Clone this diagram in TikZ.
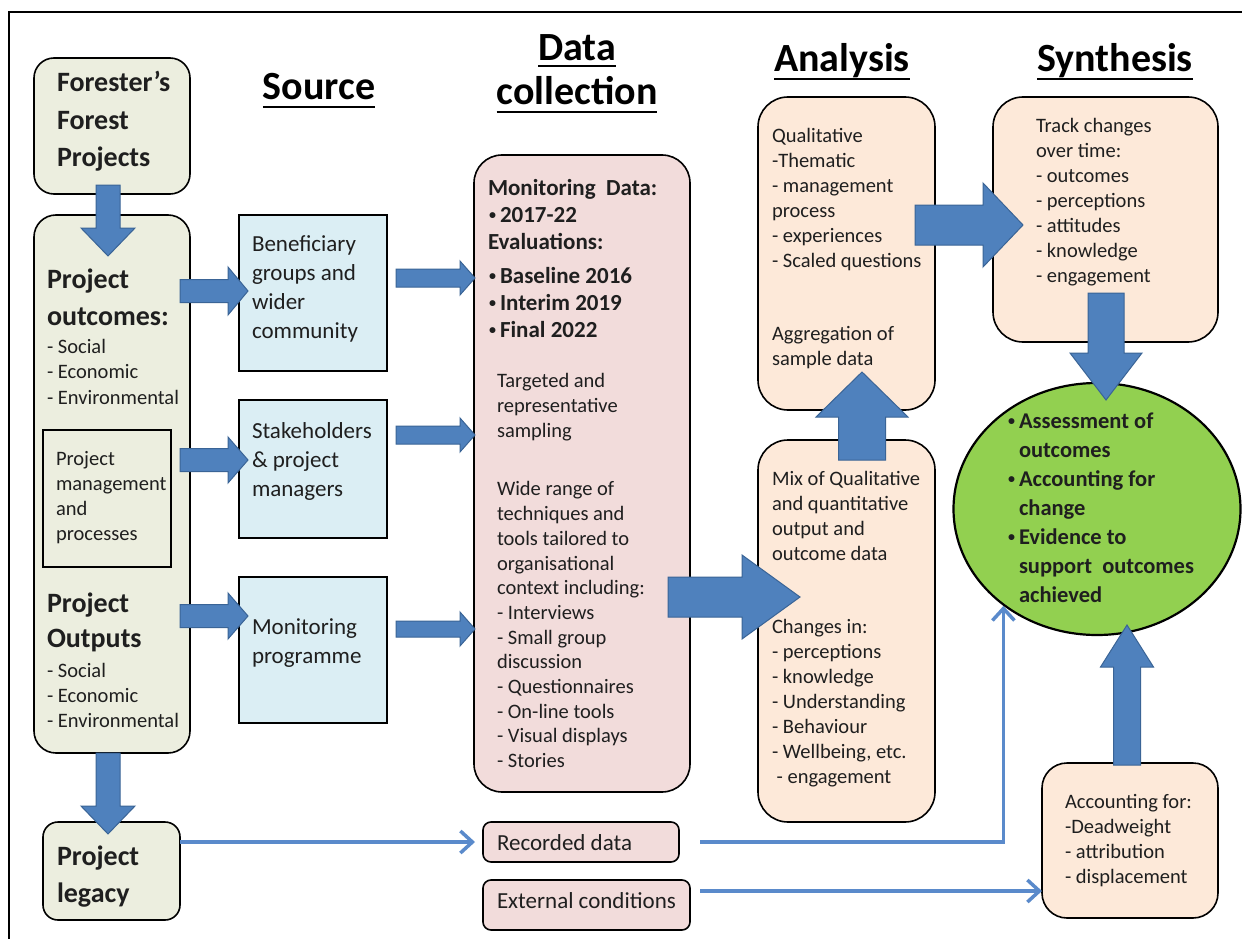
\documentclass[tikz,border=0pt]{standalone}
\usepackage{fontspec}
\setmainfont{Carlito}
\usetikzlibrary{shapes.geometric,arrows.meta,calc}
\definecolor{beige}{HTML}{ECEEDF}
\definecolor{srcblue}{HTML}{DBEEF4}
\definecolor{pinkbox}{HTML}{F2DCDB}
\definecolor{peach}{HTML}{FDE9D9}
\definecolor{circgreen}{HTML}{92D050}
\definecolor{arrfill}{HTML}{4F81BD}
\definecolor{arredge}{HTML}{3A6496}
\definecolor{thinblue}{HTML}{5A8ACB}
\newcommand\fsz[2]{\fontsize{#1}{#2}\selectfont}
% block arrows: right / down / up
\newcommand\blkR[6]{\filldraw[blk] (#1,#3-#4) -- (#2-#6,#3-#4) -- (#2-#6,#3-#5) -- (#2,#3) -- (#2-#6,#3+#5) -- (#2-#6,#3+#4) -- (#1,#3+#4) -- cycle;}
\newcommand\blkD[6]{\filldraw[blk] (#1-#4,#2) -- (#1-#4,#3-#6) -- (#1-#5,#3-#6) -- (#1,#3) -- (#1+#5,#3-#6) -- (#1+#4,#3-#6) -- (#1+#4,#2) -- cycle;}
\newcommand\blkU[6]{\filldraw[blk] (#1-#4,#2) -- (#1-#4,#3+#6) -- (#1-#5,#3+#6) -- (#1,#3) -- (#1+#5,#3+#6) -- (#1+#4,#3+#6) -- (#1+#4,#2) -- cycle;}
\newcommand\smbul{\raisebox{2.6pt}{\fontsize{14}{14}\selectfont •}}
\newcommand\bul{\makebox[11pt][l]{\smbul}}
\newcommand\dbul{\makebox[12pt][l]{\hspace{1pt}\smbul}}
\tikzset{
  bx/.style={draw=black, line width=1.6pt, inner sep=0pt, outer sep=0pt},
  txt/.style={anchor=north west, inner sep=0pt, outer sep=0pt, align=left, text=black!88},
  ttl/.style={anchor=base, inner sep=0pt, outer sep=0pt, font=\fsz{40}{46}\bfseries},
  uline/.style={line width=2.6pt},
  blk/.style={fill=arrfill, draw=arredge, line width=1pt},
  thinarr/.style={draw=thinblue, line width=3.5pt, -{Straight Barb[length=12pt,width=22pt,line width=3.5pt]}},
}
\begin{document}
\begin{tikzpicture}[x=1pt,y=-1pt]
\useasboundingbox (0,0) rectangle (1242,939);
\fill[white] (0,0) rectangle (1242,939);
\draw[line width=2pt] (9,939) -- (9,12) -- (1242,12);

% boxes
\node[bx, fill=beige, rounded corners=20pt, minimum width=156pt, minimum height=136pt] (forester) at (112,126) {};
\node[bx, fill=beige, rounded corners=22pt, minimum width=156pt, minimum height=538pt] (outcomes) at (112,484) {};
\node[bx, line width=1.4pt, minimum width=128pt, minimum height=137pt] (pm) at (107,498.5) {};
\node[bx, fill=beige, rounded corners=15pt, minimum width=137pt, minimum height=98pt] (legacy) at (111.5,871) {};
\node[bx, fill=srcblue, minimum width=148pt, minimum height=156pt] (src1) at (313,293) {};
\node[bx, fill=srcblue, minimum width=148pt, minimum height=138pt] (src2) at (313,469) {};
\node[bx, fill=srcblue, minimum width=148pt, minimum height=146pt] (src3) at (313,650) {};
\node[bx, fill=pinkbox, rounded corners=28pt, minimum width=216pt, minimum height=637pt] (data) at (582,473.5) {};
\node[bx, fill=pinkbox, rounded corners=8pt, minimum width=196pt, minimum height=40pt] (rec) at (581,842) {};
\node[bx, fill=pinkbox, rounded corners=8pt, minimum width=207pt, minimum height=50pt] (ext) at (586.5,905) {};
\node[bx, fill=peach, rounded corners=30pt, minimum width=177pt, minimum height=313pt] (anaU) at (846.5,253.5) {};
\node[bx, fill=peach, rounded corners=30pt, minimum width=177pt, minimum height=382pt] (anaL) at (846.5,631) {};
\node[bx, fill=peach, rounded corners=30pt, minimum width=225pt, minimum height=245pt] (syn) at (1105.5,219.5) {};
\node[bx, fill=peach, rounded corners=25pt, minimum width=176pt, minimum height=155pt] (acc) at (1130,840.5) {};
\node[ellipse, draw=black, line width=2.2pt, fill=circgreen, minimum width=287pt, minimum height=252pt, inner sep=0pt] (circ) at (1097,509) {};

% titles
\node[ttl] (tsrc) at (319,100) {Source};
\node[ttl] (tdata) at (577,61) {Data};
\node[ttl] (tcoll) at (577,105) {collection};
\node[ttl] (tana) at (842,72) {Analysis};
\node[ttl] (tsyn) at (1115,72) {Synthesis};
\foreach \t/\d in {tsrc/7,tdata/5,tcoll/7,tana/7,tsyn/7}
  \draw[uline] ([yshift=-\d pt]\t.base west) -- ([yshift=-\d pt]\t.base east);

% block arrows
\blkD{108}{185}{256}{12}{27}{28}
\blkD{108}{753}{834}{12}{27}{28}
\blkR{180}{248}{291}{11.5}{24}{20}
\blkR{180}{248}{460}{11.5}{23}{20}
\blkR{180}{248}{616}{11.5}{23}{20}
\blkR{396}{475}{278}{9}{17}{15}
\blkR{396}{475}{435}{9}{17}{15}
\blkR{396}{475}{629}{8}{17}{15}
\blkR{668}{800}{597}{20}{42}{58}
\blkU{862}{460}{372}{23.5}{46}{45}
\blkR{915}{1023}{225}{20}{42}{40}
\blkD{1106}{293}{400}{18}{36}{47}
\blkU{1127}{765}{625}{13.5}{26.5}{42}

% thin connectors
\draw[thinarr] (legacy.east |- rec.west) -- ([xshift=-8pt]rec.west);
\draw[thinarr] ([xshift=21pt]rec.east) -| (circ.226);
\coordinate (e1) at ([xshift=10pt,yshift=14pt]ext.east);
\draw[thinarr] (e1) -- (e1 -| acc.west);

% texts
\node[txt, font=\fsz{28}{37.5}\bfseries] (forT) at (57,65.75) {\strut Forester’s\\Forest\\Projects};
\node[txt, font=\fsz{28}{37}\bfseries] (poutT) at (47,262.1) {\strut Project\\outcomes:};
\node[txt, font=\fsz{20.5}{25.5}] (poutL) at (47,335.15) {\strut - Social\\- Economic\\- Environmental};
\node[txt, font=\fsz{20.5}{24.7}] (pmT) at (56,448.7) {\strut Project\\management\\and\\processes};
\node[txt, font=\fsz{28}{35}\bfseries] (poutpT) at (47,587.5) {\strut Project\\Outputs};
\node[txt, font=\fsz{20.5}{25}] (poutpL) at (47,659.5) {\strut - Social\\- Economic\\- Environmental};
\node[txt, font=\fsz{28}{37}\bfseries] (legT) at (57,839.1) {\strut Project\\legacy};

\node[txt, font=\fsz{23}{28.7}] (s1T) at (252,231.9) {\strut Beneficiary\\groups and\\wider\\community};
\node[txt, font=\fsz{23}{28.7}] (s2T) at (252,418.9) {\strut Stakeholders\\\& project\\managers};
\node[txt, font=\fsz{23}{28.7}] (s3T) at (252,614.9) {\strut Monitoring\\programme};

\node[txt, font=\fsz{23}{27}\bfseries] (d1T) at (488,176.1) {\strut Monitoring\ \ Data:\\\dbul 2017-22\\Evaluations:\\[7pt]\dbul Baseline 2016\\\dbul Interim 2019\\\dbul Final 2022};
\node[txt, font=\fsz{20.5}{25}] (d2T) at (497,369.5) {\strut Targeted and\\representative\\sampling};
\node[txt, font=\fsz{20.5}{24.7}] (d3T) at (497,478.7) {\strut Wide range of\\techniques and\\tools tailored to\\organisational\\context including:\\- Interviews\\- Small group\\discussion\\- Questionnaires\\- On-line tools\\- Visual displays\\- Stories};
\node[txt, font=\fsz{23}{28}] (recT) at (497,830.4) {\strut Recorded data};
\node[txt, font=\fsz{23}{28}] (extT) at (497,888.4) {\strut External conditions};

\node[txt, font=\fsz{20.5}{25}] (aU1T) at (772,124.5) {\strut Qualitative\\-Thematic\\- management\\process\\- experiences\\- Scaled questions};
\node[txt, font=\fsz{20.5}{25}] (aU2T) at (772,322.5) {\strut Aggregation of\\sample data};
\node[txt, font=\fsz{20.5}{25}] (aL1T) at (772,467.5) {\strut Mix of Qualitative\\and quantitative\\output and\\outcome data};
\node[txt, font=\fsz{20.5}{25}] (aL2T) at (772,615.5) {\strut Changes in:\\- perceptions\\- knowledge\\- Understanding\\- Behaviour\\- Wellbeing, etc.\\\ - engagement};

\node[txt, font=\fsz{20.5}{25}] (synT) at (1036,114.5) {\strut Track changes\\over time:\\- outcomes\\- perceptions\\- attitudes\\- knowledge\\- engagement};
\node[txt, font=\fsz{22.5}{29}\bfseries] (circT) at (1008,407.7) {\strut\bul Assessment of\\\hspace*{11pt}outcomes\\\bul Accounting for\\\hspace*{11pt}change\\\bul Evidence to\\\hspace*{11pt}support\ \ outcomes\\\hspace*{11pt}achieved};
\node[txt, font=\fsz{20.5}{25}] (accT) at (1065,790.5) {\strut Accounting for:\\-Deadweight\\- attribution\\- displacement};
\end{tikzpicture}
\end{document}
